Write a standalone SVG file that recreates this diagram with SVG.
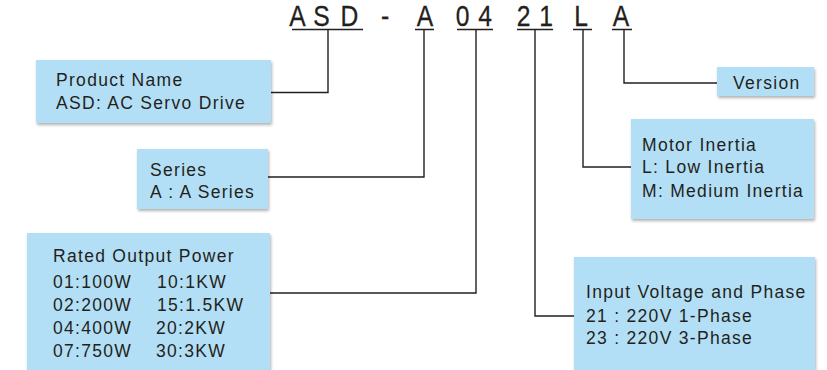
<svg xmlns="http://www.w3.org/2000/svg" width="827" height="370" viewBox="0 0 827 370">
<defs>
<filter id="sh" x="-10%" y="-10%" width="120%" height="130%">
<feDropShadow dx="1" dy="2" stdDeviation="1.5" flood-color="#000" flood-opacity="0.3"/>
</filter>
<style>
.box{fill:#b3dff6;filter:url(#sh);}
.t{font-family:"Liberation Sans",Arial,sans-serif;font-size:17.5px;fill:#231f20;letter-spacing:1.3px;}
.h{font-family:"Liberation Sans",Arial,sans-serif;font-size:29px;fill:#231f20;text-anchor:middle;stroke:#231f20;stroke-width:0.3;}
.ln{fill:none;stroke:#231f20;stroke-width:1.4;}
</style>
</defs>
<rect width="827" height="370" fill="#fff"/>

<g id="code">
<text class="h" transform="translate(297.5,26) scale(0.85,1)">A</text>
<text class="h" transform="translate(321.5,26) scale(0.85,1)">S</text>
<text class="h" transform="translate(349.5,26) scale(0.85,1)">D</text>
<text class="h" transform="translate(385,26) scale(0.85,1)">-</text>
<text class="h" transform="translate(425,26) scale(0.85,1)">A</text>
<text class="h" transform="translate(462.5,26) scale(0.85,1)">0</text>
<text class="h" transform="translate(485,26) scale(0.85,1)">4</text>
<text class="h" transform="translate(523.5,26) scale(0.85,1)">2</text>
<text class="h" transform="translate(546,26) scale(0.85,1)">1</text>
<text class="h" transform="translate(581,26) scale(0.85,1)">L</text>
<text class="h" transform="translate(621,26) scale(0.85,1)">A</text>
</g>

<g id="connectors">
<path class="ln" d="M292 29.5H363M415 29.5H434M457 29.5H493M517 29.5H553M573 29.5H592M612 29.5H632"/>
<path class="ln" d="M328 29.5V92.5H271"/>
<path class="ln" d="M424 29.5V177H268"/>
<path class="ln" d="M476 29.5V293H270"/>
<path class="ln" d="M535 29.5V316H574"/>
<path class="ln" d="M583 29.5V167H631"/>
<path class="ln" d="M624 29.5V83H717"/>
</g>

<g id="product-name">
<rect class="box" x="36" y="60" width="235" height="63"/>
<text class="t" x="56" y="86">Product Name</text>
<text class="t" x="56" y="109">ASD: AC Servo Drive</text>
</g>

<g id="series">
<rect class="box" x="137" y="149" width="131" height="60"/>
<text class="t" x="150" y="176">Series</text>
<text class="t" x="150" y="198">A : A Series</text>
</g>

<g id="rated-output-power">
<rect class="box" x="27" y="233" width="243" height="140"/>
<text class="t" x="53" y="262">Rated Output Power</text>
<text class="t" x="53" y="288">01:100W</text>
<text class="t" x="157" y="288">10:1KW</text>
<text class="t" x="53" y="311">02:200W</text>
<text class="t" x="157" y="311">15:1.5KW</text>
<text class="t" x="53" y="334">04:400W</text>
<text class="t" x="156" y="334">20:2KW</text>
<text class="t" x="53" y="357">07:750W</text>
<text class="t" x="156" y="357">30:3KW</text>
</g>

<g id="version">
<rect class="box" x="717" y="67" width="97" height="29"/>
<text class="t" x="733" y="89">Version</text>
</g>

<g id="motor-inertia">
<rect class="box" x="631" y="119" width="183" height="100"/>
<text class="t" x="642" y="151">Motor Inertia</text>
<text class="t" x="642" y="173">L: Low Inertia</text>
<text class="t" x="642" y="197">M: Medium Inertia</text>
</g>

<g id="input-voltage">
<rect class="box" x="574" y="257" width="241" height="115"/>
<text class="t" x="586" y="298">Input Voltage and Phase</text>
<text class="t" x="586" y="322">21 : 220V 1-Phase</text>
<text class="t" x="586" y="344">23 : 220V 3-Phase</text>
</g>
</svg>
